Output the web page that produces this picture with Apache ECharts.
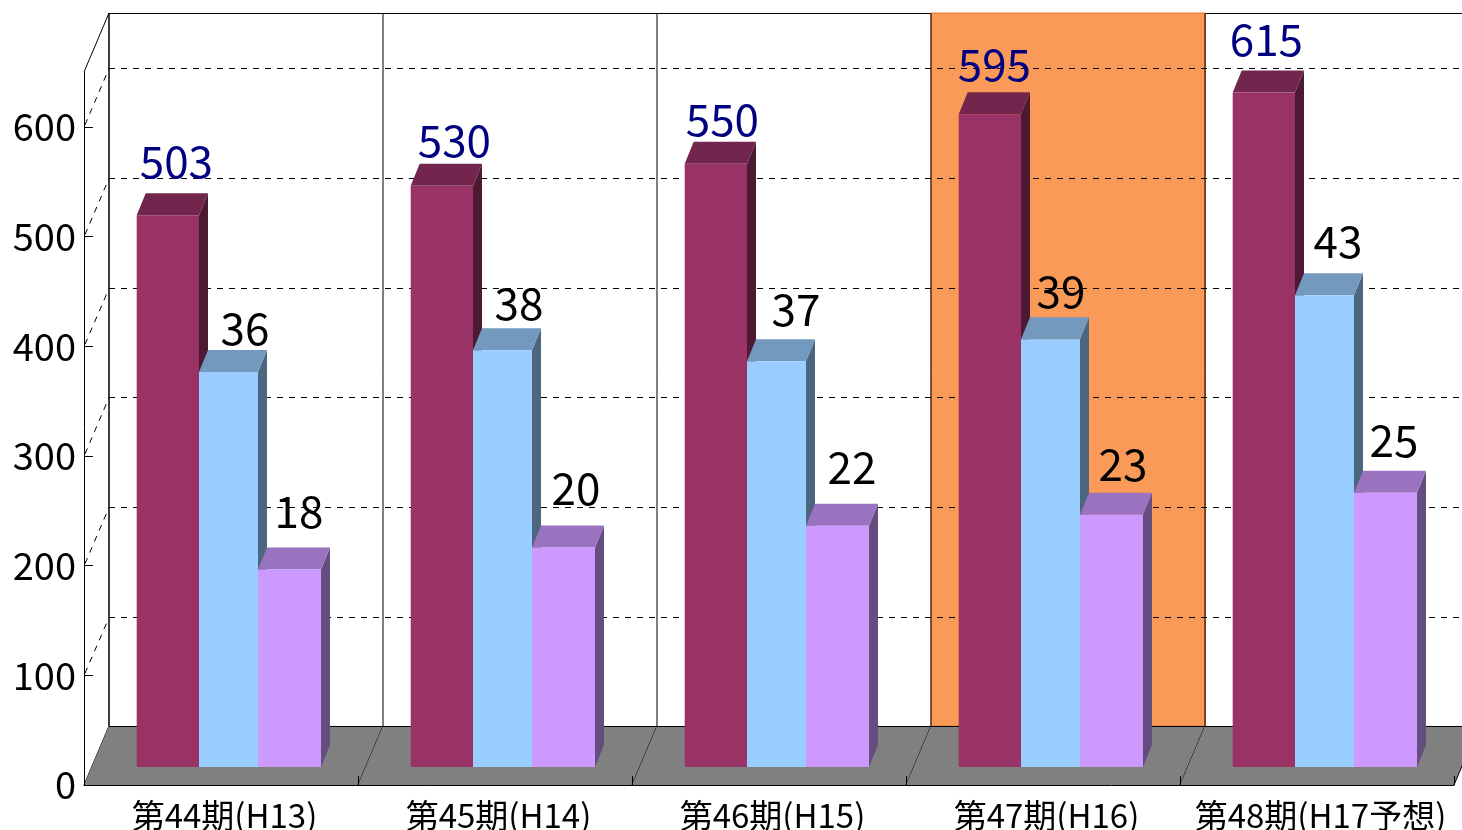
<!DOCTYPE html>
<html>
<head>
<meta charset="utf-8">
<title>chart</title>
<style>
    html, body { margin: 0; padding: 0; background: #fff; }
    #main { width: 1462px; height: 830px; overflow: hidden; }
</style>
<script src="https://cdn.jsdelivr.net/npm/echarts@6/dist/echarts.min.js"></script>
</head>
<body>
<div id="main"></div>
<script>
    const categories = ["第44期(H13)", "第45期(H14)", "第46期(H15)", "第47期(H16)", "第48期(H17予想)"];
    const maroonValues = [503, 530, 550, 595, 615];
    const blueValues = [36, 38, 37, 39, 43];
    const purpleValues = [18, 20, 22, 23, 25];
    const yTicks = [0, 100, 200, 300, 400, 500, 600];
    const highlightIndex = [3];

    const FONT = '"Noto Sans CJK JP", sans-serif';
    // oblique projection of the Excel style 3D box
    const WALL_DX = 25, WALL_DY = 59;
    const BAR_INSET_Y = 18;
    const BAR_DX = 9, BAR_DY = 22;

    // hand placed labels in the original: offset from the middle of the bar's top face
    const maroonNudge = [[4, -32], [8, -23], [2, -22], [0, -28], [-2, -31]];
    const blueNudge = [[12, -22], [12, -25], [15, -30], [6, -26], [9, -32]];
    const purpleNudge = [[5, -36], [8, -37], [10, -36], [7, -28], [4, -30]];

    function line(x1, y1, x2, y2, style) {
        return { type: "line", silent: true, shape: { x1, y1, x2, y2 }, style: Object.assign({ stroke: "#000", lineWidth: 1, fill: null }, style) };
    }

    function poly(points, fill) {
        return { type: "polygon", silent: true, shape: { points }, style: { fill, stroke: null } };
    }

    function catBox(api, i) {
        const c = api.coord([i, 0]);
        const w = api.size([1, 0])[0];
        return { l: c[0] - w / 2, r: c[0] + w / 2, y0: c[1], w };
    }

    // top of the wall + left wall outline
    function renderTopLine(params, api) {
        const b = catBox(api, api.value(0));
        const top = api.coord([api.value(0), 650])[1] - WALL_DY;
        const children = [line(b.l + WALL_DX, top + 0.5, b.r + WALL_DX, top + 0.5)];
        if (params.dataIndex === 0) {
            children.push(line(b.l, top + WALL_DY, b.l + WALL_DX, top));
            children.push(line(b.l + WALL_DX, top, b.l + WALL_DX, b.y0 - WALL_DY, { lineWidth: 1.5 }));
            children.push(line(b.l, b.y0, b.l + WALL_DX, b.y0 - WALL_DY));
        }
        return { type: "group", children };
    }

    function renderBand(params, api) {
        const b = catBox(api, api.value(0));
        const top = api.coord([api.value(0), 650])[1] - WALL_DY;
        return {
            type: "rect",
            silent: true,
            shape: { x: b.l + WALL_DX, y: top, width: b.w + 0.5, height: b.y0 - WALL_DY - top },
            style: { fill: "#fa9a58", stroke: "#f07a26", lineWidth: 1 }
        };
    }

    function renderFloor(params, api) {
        const i = api.value(0);
        const b = catBox(api, i);
        const top = api.coord([i, 650])[1] - WALL_DY;
        const backY = b.y0 - WALL_DY;
        return {
            type: "group",
            children: [
                poly([[b.l, b.y0], [b.r, b.y0], [b.r + WALL_DX, backY], [b.l + WALL_DX, backY]], "#808080"),
                line(b.r + WALL_DX, top, b.r + WALL_DX, backY),
                line(b.l + WALL_DX, backY + 0.5, b.r + WALL_DX, backY + 0.5),
                line(b.r, b.y0, b.r + WALL_DX, backY)
            ]
        };
    }

    function renderGridLine(params, api) {
        const tick = api.value(1);
        const b = catBox(api, 0);
        const y = api.coord([0, tick])[1];
        const backY = Math.floor(y - WALL_DY + 1) + 0.5;
        const dash = { lineDash: [6, 6] };
        return {
            type: "group",
            children: [
                line(b.l + 1, y - 2, b.l + WALL_DX, backY, dash),
                line(b.l + WALL_DX, backY, b.l + WALL_DX + b.w * 5, backY, dash)
            ]
        };
    }

    function makeBarRender(left, width, faces, labelColor, values, nudge) {
        return function (params, api) {
            const i = api.value(0);
            const value = api.value(1);
            const center = api.coord([i, 0])[0];
            const x0 = center + left;
            const x1 = x0 + width;
            const yBase = api.coord([i, 0])[1] - BAR_INSET_Y;
            const yTop = api.coord([i, value])[1] - BAR_INSET_Y;
            const n = nudge[i];
            return {
                type: "group",
                children: [
                    poly([[x1, yTop], [x1 + BAR_DX, yTop - BAR_DY], [x1 + BAR_DX, yBase - BAR_DY], [x1, yBase]], faces[2]),
                    poly([[x0, yTop], [x0 + BAR_DX, yTop - BAR_DY], [x1 + BAR_DX, yTop - BAR_DY], [x1, yTop]], faces[1]),
                    { type: "rect", silent: true, shape: { x: x0, y: yTop, width, height: yBase - yTop }, style: { fill: faces[0], stroke: null } },
                    {
                        type: "text",
                        silent: true,
                        z2: 100,
                        style: {
                            x: (x0 + x1 + BAR_DX) / 2 + n[0],
                            y: yTop - BAR_DY + n[1],
                            text: String(values[i]),
                            fill: labelColor,
                            font: "44px " + FONT,
                            align: "center",
                            verticalAlign: "middle"
                        }
                    }
                ]
            };
        };
    }

    const catData = categories.map((c, i) => [i]);
    const pairs = (arr) => arr.map((v, i) => [i, v]);

    const option = {
        animation: false,
        backgroundColor: "#fff",
        // labels run off the bottom edge in the original, so keep the grid where it is
        grid: { left: 84, right: 8, top: 72, bottom: 45, containLabel: false, outerBoundsMode: "none" },
        xAxis: {
            type: "category",
            data: categories,
            axisLine: { show: true, lineStyle: { color: "#000", width: 1 } },
            axisTick: { show: true, inside: true, length: 9, lineStyle: { color: "#000" } },
            axisLabel: { interval: 0, color: "#000", fontSize: 33, fontFamily: FONT, margin: 14, padding: [0, 0, 0, 7], hideOverlap: false },
            splitLine: { show: false }
        },
        yAxis: [
            {
                type: "value",
                min: 0,
                max: 650,
                interval: 100,
                axisLine: { show: true, lineStyle: { color: "#000", width: 1 } },
                axisTick: { show: true, inside: true, length: 9, customValues: yTicks, lineStyle: { color: "#000" } },
                axisLabel: { color: "#000", fontSize: 38, fontFamily: FONT, margin: 8, padding: [3, 0, 0, 0], customValues: yTicks },
                splitLine: { show: false }
            },
            // the two small series run on a hidden axis one tenth of the left one
            { type: "value", min: 0, max: 65, show: false, splitLine: { show: false } }
        ],
        series: [
            { type: "custom", z: -3, clip: false, data: catData, encode: { x: 0 }, renderItem: renderTopLine },
            { type: "custom", z: -2, clip: false, data: highlightIndex.map((i) => [i]), encode: { x: 0 }, renderItem: renderBand },
            { type: "custom", z: -1, clip: false, data: catData, encode: { x: 0 }, renderItem: renderFloor },
            { type: "custom", z: 1, clip: false, data: yTicks.filter((t) => t > 0).map((t) => [0, t]), encode: { x: 0, y: 1 }, renderItem: renderGridLine },
            {
                type: "custom", z: 5, clip: false, data: pairs(maroonValues), encode: { x: 0, y: 1 },
                renderItem: makeBarRender(-84.3, 62.3, ["#993366", "#73264d", "#4d1a33"], "#000080", maroonValues, maroonNudge)
            },
            {
                type: "custom", z: 6, clip: false, yAxisIndex: 1, data: pairs(blueValues), encode: { x: 0, y: 1 },
                renderItem: makeBarRender(-22, 59, ["#99ccff", "#7399bf", "#4d6680"], "#000", blueValues, blueNudge)
            },
            {
                type: "custom", z: 7, clip: false, yAxisIndex: 1, data: pairs(purpleValues), encode: { x: 0, y: 1 },
                renderItem: makeBarRender(37, 63, ["#cc99ff", "#9973bf", "#664d80"], "#000", purpleValues, purpleNudge)
            }
        ]
    };

    const chart = echarts.init(document.getElementById("main"));
    chart.setOption(option);
</script>
</body>
</html>
